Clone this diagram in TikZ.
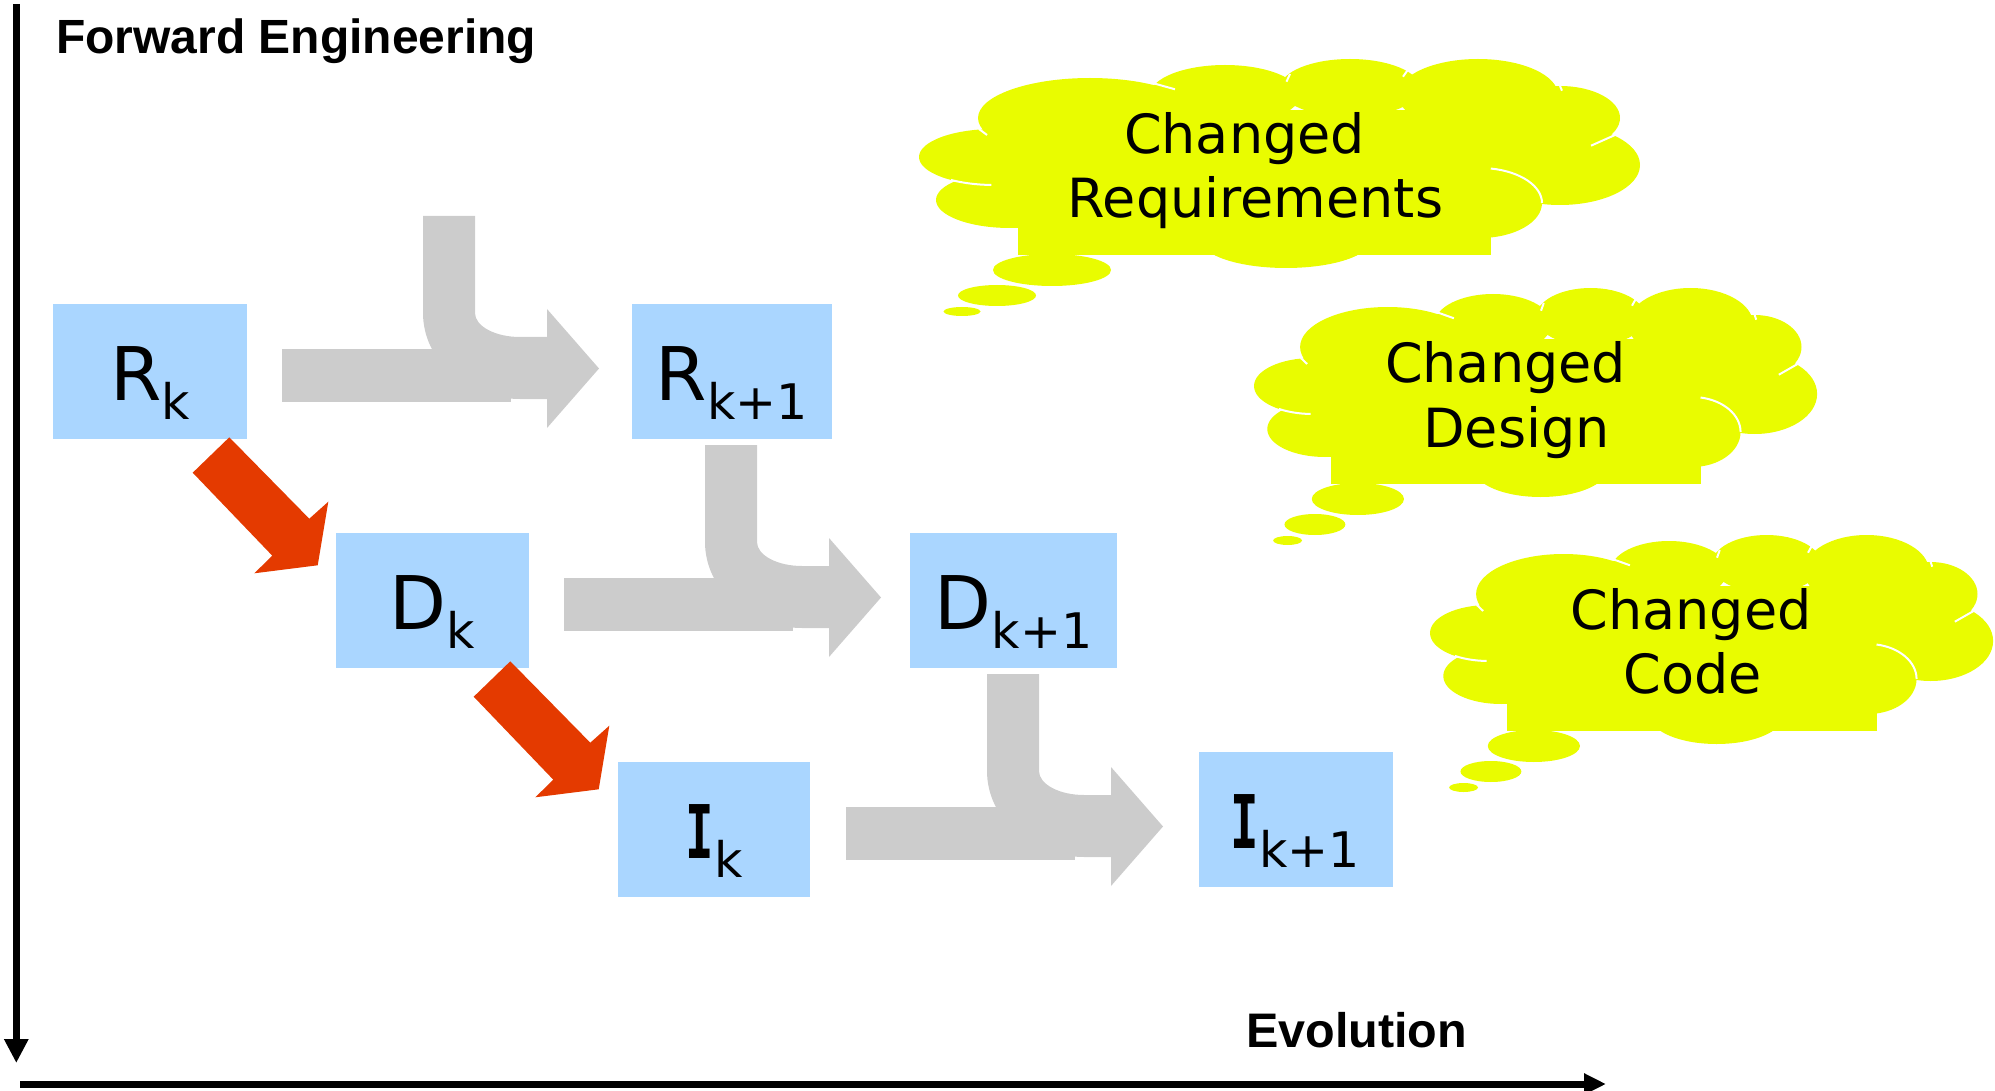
\documentclass[tikz,border=0pt]{standalone}
\usepackage{fontspec}
\usepackage{graphicx}
\setmainfont{DejaVu Sans}
\newfontfamily\headfont{Liberation Sans}
\newfontfamily\slabfont{DejaVu Sans Mono}
\usetikzlibrary{arrows.meta}

\definecolor{boxblue}{RGB}{170,214,255}
\definecolor{flowgray}{RGB}{204,204,204}
\definecolor{stepred}{RGB}{228,58,0}
\definecolor{cloudyellow}{RGB}{233,252,0}

% lowered index for the stage names
\newcommand{\lowidx}[1]{\raisebox{-19pt}{\fontsize{49}{50}\selectfont #1}}
% slab-serif capital I
\newcommand{\slabI}{\scalebox{0.64}[1]{\slabfont\bfseries I}}

% thought cloud in local units, left edge at x = 0
\newcommand{\thoughtcloud}{%
  \fill[cloudfill] (75,157) ellipse [x radius=75, y radius=28];
  \fill[cloudfill] (91,200) ellipse [x radius=74, y radius=28];
  \fill[cloudfill] (171,118) ellipse [x radius=112, y radius=40];
  \fill[cloudfill] (306,95) ellipse [x radius=75, y radius=30];
  \fill[cloudfill] (431,88) ellipse [x radius=70, y radius=29];
  \fill[cloudfill] (559,95) ellipse [x radius=80, y radius=36];
  \fill[cloudfill] (641,118) ellipse [x radius=60, y radius=32];
  \fill[cloudfill] (641,165) ellipse [x radius=80, y radius=40];
  \fill[cloudfill] (561,203) ellipse [x radius=62, y radius=35];
  \fill[cloudfill] (367,240) ellipse [x radius=85, y radius=28];
  \fill[cloudfill] (99,150) rectangle (572,255);
  \fill[cloudfill] (100,110) rectangle (600,200);
  % lobe seams
  \draw[cloudline] (561,203) ++(-80:62 and 35) arc[start angle=-80, end angle=0, x radius=62, y radius=35];
  \draw[cloudline] (75,157) ++(125:75 and 28) arc[start angle=125, end angle=92, x radius=75, y radius=28];
  \draw[cloudline] (60,129) -- (68,135);
  \draw[cloudline] (234.5,83.3) -- (256,89.3);
  \draw[cloudline] (367.5,81.7) -- (371,74);
  \draw[cloudline] (484,76.7) -- (489.5,69);
  \draw[cloudline] (641,86) -- (643,90.7);
  \draw[cloudline] (672,145.7) -- (696,135);
  % trailing bubbles
  \fill[cloudfill] (133,270) ellipse [x radius=59, y radius=16];
  \fill[cloudfill] (78,295.5) ellipse [x radius=39, y radius=10.5];
  \fill[cloudfill] (43,311.5) ellipse [x radius=18.5, y radius=4.5];
}

\tikzset{
  stage/.style={fill=boxblue, inner sep=0pt, minimum height=135pt},
  stagelabel/.style={inner sep=0pt, anchor=base, font=\fontsize{74}{80}\selectfont},
  flow/.style={fill=flowgray},
  redstep/.style={fill=stepred},
  cloudfill/.style={fill=cloudyellow},
  cloudline/.style={draw=white, line width=2pt},
  cloudtext/.style={inner sep=0pt, anchor=base, font=\fontsize{54}{64}\selectfont},
  axis/.style={line width=7pt, draw=black},
  axislabel/.style={inner sep=0pt, anchor=base west},
}

\begin{document}
\begin{tikzpicture}[x=1pt, y=-1pt]
\useasboundingbox (0,0) rectangle (1995,1091);

% stages
\node[stage, minimum width=194pt] (Rk)  at (150,371.5)  {};
\node[stage, minimum width=200pt] (Rk1) at (732,371.5)  {};
\node[stage, minimum width=193pt] (Dk)  at (432.5,600.5) {};
\node[stage, minimum width=207pt] (Dk1) at (1013.5,600.5) {};
\node[stage, minimum width=192pt] (Ik)  at (714,829.5)  {};
\node[stage, minimum width=194pt] (Ik1) at (1295.5,819.5) {};

\node[stagelabel] (RkT)  at ([yshift=-97pt]Rk.north)  {R\lowidx{k}};
\node[stagelabel] (Rk1T) at ([yshift=-97pt]Rk1.north) {R\lowidx{k+1}};
\node[stagelabel] (DkT)  at ([yshift=-97pt]Dk.north)  {D\lowidx{k}};
\node[stagelabel] (Dk1T) at ([yshift=-97pt]Dk1.north) {D\lowidx{k+1}};
\node[stagelabel] (IkT)  at ([yshift=-97pt]Ik.north)  {\slabI\lowidx{k}};
\node[stagelabel] (Ik1T) at ([yshift=-97pt]Ik1.north) {\slabI\lowidx{k+1}};

% merging grey arrows towards the next version
\foreach \dx/\dy in {0/0, 282/229, 564/458} {
  \begin{scope}[shift={(\dx,\dy)}]
    \fill[flow] (282,349) rectangle (511,402);
    \fill[flow] (423,216) -- (475,216) -- (475,313)
      .. controls (475,326.2) and (495.2,337) .. (520,337)
      -- (547,337) -- (547,309) -- (599,368.5) -- (547,428) -- (547,399) -- (520,399)
      .. controls (466.5,399) and (423,360.5) .. (423,313) -- cycle;
  \end{scope}
}

% red refinement arrows
\foreach \dx/\dy in {0/0, 281/224} {
  \fill[redstep, shift={(\dx,\dy)}] (192.7,472.7) -- (229.3,437.3) -- (309.3,518.7)
    -- (328.3,501.7) -- (317.7,565.3) -- (254.3,573.3) -- (272.3,555.7) -- cycle;
}

% thought clouds
\begin{scope}[shift={(919,0)}]
  \thoughtcloud
\end{scope}
\begin{scope}[shift={(1254,229)}, xscale=0.781]
  \thoughtcloud
\end{scope}
\begin{scope}[shift={(1430,476)}, xscale=0.781]
  \thoughtcloud
\end{scope}

\node[cloudtext] (c1a) at (1244.5,154) {Changed};
\node[cloudtext] (c1b) at (1255.5,218) {Requirements};
\node[cloudtext] (c2a) at (1505.5,382) {Changed};
\node[cloudtext] (c2b) at (1516.5,447) {Design};
\node[cloudtext] (c3a) at (1691,629)   {Changed};
\node[cloudtext] (c3b) at (1693,693)   {Code};

% axes
\coordinate (ytop) at (16.3,4);
\coordinate (yend) at (16.3,1063);
\coordinate (xstart) at (20,1084);
\coordinate (xend) at (1606,1084);
\draw[axis, -{Triangle[length=24pt, width=23pt]}] (ytop) -- (yend);
\draw[axis, -{Triangle[length=22pt, width=20pt]}] (xstart) -- (xend);

\node[axislabel, font=\headfont\bfseries\fontsize{48}{54}\selectfont] (fwd) at (56,54) {Forward Engineering};
\node[axislabel, font=\headfont\bfseries\fontsize{48.5}{54}\selectfont] (evo) at (1246,1047) {Evolution};
\end{tikzpicture}
\end{document}
